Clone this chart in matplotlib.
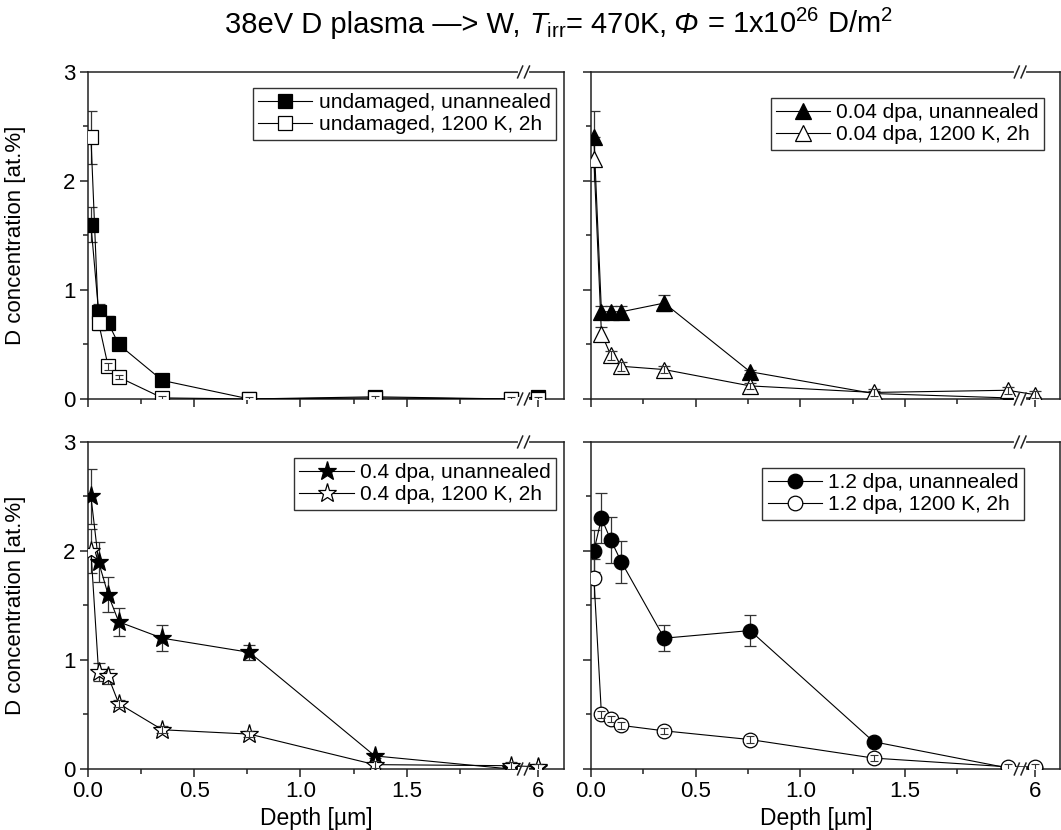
## Depth profiles of D concentration in W, four panels with a broken depth axis.

import matplotlib
matplotlib.use("Agg")
import matplotlib.pyplot as plt
from matplotlib.transforms import blended_transform_factory
import numpy as np

plt.rcParams['font.family'] = ['Liberation Sans', 'DejaVu Sans']
plt.rcParams['mathtext.fontset'] = 'custom'
plt.rcParams['mathtext.rm'] = 'Liberation Sans'
plt.rcParams['mathtext.it'] = 'Liberation Sans:italic'

# depth points [um]; the last one sits behind the axis break
depth = [0.014, 0.05, 0.095, 0.145, 0.35, 0.76, 1.35, 1.99, 6]

undam_ua = [1.6, 0.8, 0.7, 0.5, 0.17, 0.0, 0.02, 0.0, 0.02]
undam_ua_err = [0.16, 0.07, 0.06, 0.03, 0.02, 0.02, 0.02, 0.02, 0.02]
undam_an = [2.4, 0.7, 0.3, 0.2, 0.01, 0.0, 0.01, 0.0, 0.0]
undam_an_err = [0.24, 0.07, 0.03, 0.02, 0.02, 0.02, 0.02, 0.02, 0.02]

dpa004_ua = [2.4, 0.8, 0.8, 0.8, 0.88, 0.25, 0.05, 0.01, 0.01]
dpa004_ua_err = [0.24, 0.05, 0.05, 0.05, 0.07, 0.02, 0.02, 0.01, 0.01]
dpa004_an = [2.2, 0.6, 0.4, 0.3, 0.27, 0.12, 0.06, 0.08, 0.04]
dpa004_an_err = [0.2, 0.06, 0.04, 0.04, 0.03, 0.03, 0.03, 0.03, 0.03]

dpa04_ua = [2.5, 1.9, 1.6, 1.35, 1.2, 1.07, 0.12, 0.0, 0.01]
dpa04_ua_err = [0.25, 0.18, 0.16, 0.13, 0.12, 0.07, 0.02, 0.02, 0.02]
dpa04_an = [2.0, 0.89, 0.85, 0.6, 0.36, 0.32, 0.04, 0.03, 0.02]
dpa04_an_err = [0.2, 0.08, 0.07, 0.03, 0.03, 0.03, 0.03, 0.03, 0.03]

dpa12_ua = [2.0, 2.3, 2.1, 1.9, 1.2, 1.27, 0.25, 0.01, 0.01]
dpa12_ua_err = [0.19, 0.23, 0.21, 0.19, 0.12, 0.14, 0.02, 0.01, 0.01]
dpa12_an = [1.75, 0.5, 0.46, 0.4, 0.35, 0.27, 0.1, 0.02, 0.02]
dpa12_an_err = [0.18, 0.03, 0.03, 0.03, 0.03, 0.03, 0.03, 0.03, 0.03]

x_ticks = [0.0, 0.5, 1.0, 1.5, 6]
x_ticklabels = ["0.0", "0.5", "1.0", "1.5", "6"]

# axis break: everything up to 2 um is linear, 6 um is placed just after the break
break_at = 2.05
pos_after_break = 2.12


def to_axis(d):
    return np.array([v if v <= 2.0 else pos_after_break for v in d])


def add_break(ax, xb):
    trans = blended_transform_factory(ax.transData, ax.transAxes)
    for yb in (0.0, 1.0):
        ax.plot([xb - 0.018, xb + 0.018], [yb, yb], color="white", lw=3,
                transform=trans, clip_on=False, zorder=10)
        for off in (-0.016, 0.016):
            ax.plot([xb + off - 0.012, xb + off + 0.012], [yb - 0.018, yb + 0.018],
                    color="#222222", lw=1.1, transform=trans, clip_on=False, zorder=11)


def draw_series(ax, y, err, marker, ms, filled, label):
    x = to_axis(depth)
    y = np.array(y)
    err = np.array(err)
    ax.errorbar(x, y, yerr=err, fmt="none", ecolor="#333333", elinewidth=0.9,
                capsize=4, capthick=0.9, zorder=2)
    ax.plot(x, y, color="black", lw=0.8, marker=marker, ms=ms,
            mfc="black" if filled else "white", mec="black", mew=0.9,
            label=label, zorder=3)
    small = err <= 0.04
    if not filled:
        ax.errorbar(x[small], y[small], yerr=err[small], fmt="none", ecolor="#333333",
                    elinewidth=0.8, capsize=3, capthick=0.8, zorder=4)


panels = [
    ([0.0829, 0.5193, 0.4486, 0.394], "s", 9.5,
     undam_ua, undam_ua_err, "undamaged, unannealed",
     undam_an, undam_an_err, "undamaged, 1200 K, 2h", (0.983, 0.951)),
    ([0.557, 0.5193, 0.442, 0.394], "^", 11,
     dpa004_ua, dpa004_ua_err, "0.04 dpa, unannealed",
     dpa004_an, dpa004_an_err, "0.04 dpa, 1200 K, 2h", (0.966, 0.92)),
    ([0.0829, 0.0735, 0.4486, 0.394], "*", 14,
     dpa04_ua, dpa04_ua_err, "0.4 dpa, unannealed",
     dpa04_an, dpa04_an_err, "0.4 dpa, 1200 K, 2h", (0.983, 0.951)),
    ([0.557, 0.0735, 0.442, 0.394], "o", 10.5,
     dpa12_ua, dpa12_ua_err, "1.2 dpa, unannealed",
     dpa12_an, dpa12_an_err, "1.2 dpa, 1200 K, 2h", (0.923, 0.92)),
]

fig = plt.figure(figsize=(10.61, 8.30), dpi=100)

for i, (rect, marker, ms, y1, e1, l1, y2, e2, l2, leg_pos) in enumerate(panels):
    ax = fig.add_axes(rect)
    draw_series(ax, y1, e1, marker, ms, True, l1)
    draw_series(ax, y2, e2, marker, ms, False, l2)

    ax.set_xlim(0, 2.24)
    ax.set_ylim(0, 3)
    ax.set_xticks(to_axis(x_ticks))
    ax.set_xticks([0.25, 0.75, 1.25, 1.75], minor=True)
    ax.set_yticks([0, 1, 2, 3])
    ax.set_yticks([0.5, 1.5, 2.5], minor=True)
    ax.tick_params(which="major", direction="out", length=6, width=1.1,
                   labelsize=16, pad=3, color="#222222")
    ax.tick_params(which="minor", direction="out", length=3.5, width=1.1, color="#222222")
    for s in ax.spines.values():
        s.set_linewidth(1.1)
        s.set_color("#222222")

    if i >= 2:
        ax.set_xticklabels(x_ticklabels)
        ax.set_xlabel("Depth [µm]", fontsize=16.5)
        ax.xaxis.set_label_coords(0.48, -0.115)
    else:
        ax.set_xticklabels([])
    if i % 2 == 0:
        ax.set_ylabel("D concentration [at.%]", fontsize=16)
        ax.yaxis.set_label_coords(-0.13, 0.5)
    else:
        ax.set_yticklabels([])

    add_break(ax, break_at)

    leg = ax.legend(loc="upper right", bbox_to_anchor=leg_pos, fontsize=15,
                    frameon=True, fancybox=False, edgecolor="black",
                    handlelength=2.6, handletextpad=0.3, labelspacing=0.15,
                    borderpad=0.25, borderaxespad=0)
    leg.get_frame().set_linewidth(1.0)

# title built from pieces so the capital Phi can be italic
title_parts = [
    ("38eV D plasma —> W, ", "normal"),
    (r"$\mathit{T}_{\mathrm{irr}}$= 470K,", "normal"),
    (" Φ", "italic"),
    (r" = 1x10$^{26}$ D/m$^{2}$", "normal"),
]
renderer = fig.canvas.get_renderer()
W, H = fig.bbox.width, fig.bbox.height
pieces = []
widths = []
for txt, style in title_parts:
    t = fig.text(0, 0.968, txt, ha="left", va="baseline", fontsize=21, style=style)
    pieces.append(t)
    widths.append(t.get_window_extent(renderer).width)
x0 = 559 - sum(widths) / 2
for t, w in zip(pieces, widths):
    t.set_x(x0 / W)
    x0 += w
for t in pieces:
    t.set_y(1 - 33 / H)

fig.savefig("out.png", dpi=100)
